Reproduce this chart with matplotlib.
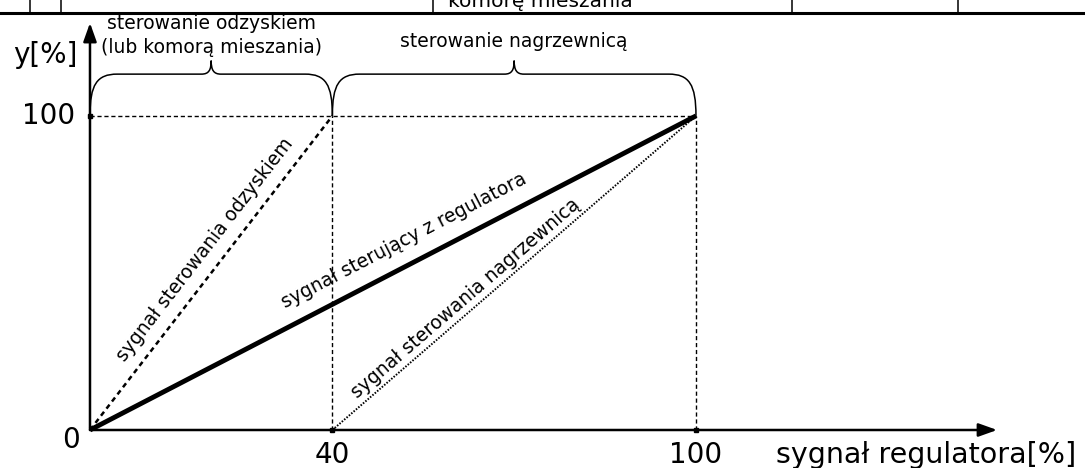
# schemat sekwencji sterowania: odzysk -> nagrzewnica

import matplotlib.pyplot as plt
from matplotlib.path import Path
from matplotlib.patches import PathPatch

plt.rcParams['font.family'] = ['DejaVu Sans']

# dane [%]
x_reg = [0, 100]   # sygnał sterujący z regulatora
y_reg = [0, 100]
x_odz = [0, 40]    # sygnał sterowania odzyskiem
y_odz = [0, 100]
x_nag = [40, 100]  # sygnał sterowania nagrzewnicą
y_nag = [0, 100]
x_ticks = [0, 40, 100]
x_tick_labels = ['0', '40', '100']
y_max = 100
brace_spans = [(0, 40), (40, 100)]
brace_labels = ['sterowanie odzyskiem\n(lub komorą mieszania)', 'sterowanie nagrzewnicą']


def brace(ax, x0, x1, y0, y1, ytip, r=4.5, c=1.6):
    xm = (x0 + x1) / 2
    yk = y1 + 0.3 * (ytip - y1)
    verts = [(x0, y0), (x0, y0 + 0.75 * (y1 - y0)), (x0 + 0.25 * r, y1), (x0 + r, y1),
             (xm - c, y1),
             (xm - 0.25 * c, y1), (xm, yk), (xm, ytip),
             (xm, yk), (xm + 0.25 * c, y1), (xm + c, y1),
             (x1 - r, y1),
             (x1 - 0.25 * r, y1), (x1, y0 + 0.75 * (y1 - y0)), (x1, y0)]
    codes = [Path.MOVETO] + [Path.CURVE4] * 3 + [Path.LINETO] + [Path.CURVE4] * 6 + \
            [Path.LINETO] + [Path.CURVE4] * 3
    ax.add_patch(PathPatch(Path(verts, codes), fill=False, lw=1.1, color='k'))


fig = plt.figure(figsize=(10.85, 4.68), dpi=100)
ax = fig.add_axes([0, 0, 1, 1])
ax.set_xlim(-14.85, 164.2)
ax.set_ylim(-12.1, 136.9)
ax.axis('off')

# fragment tabeli nad rysunkiem
ax.plot([0, 1], [0.972, 0.972], color='k', lw=2.2, transform=ax.transAxes, clip_on=False)
for xf in [30, 61, 433, 792, 958]:
    ax.plot([xf / 1085, xf / 1085], [0.972, 1], color='k', lw=1.1, transform=ax.transAxes)
ax.text(448 / 1085, 1 - 7 / 468, 'komorę mieszania', fontsize=14.5, ha='left',
        va='baseline', transform=ax.transAxes)

# linie pomocnicze
guide = dict(color='k', lw=1, dashes=(3, 2))
ax.plot([0, y_max and 100], [y_max, y_max], **guide)
ax.plot([x_odz[1], x_odz[1]], [0, y_max], **guide)
ax.plot([x_nag[1], x_nag[1]], [0, y_max], **guide)

# sygnały
ax.plot(x_odz, y_odz, color='k', lw=1.8, dashes=(2, 1.6))
ax.plot(x_nag, y_nag, color='k', lw=1.4, dashes=(0.8, 0.8))
ax.plot(x_reg, y_reg, color='k', lw=3.5, solid_capstyle='butt')

# osie ze strzałkami
arr = dict(arrowstyle='-|>,head_length=0.7,head_width=0.25', color='k', lw=1.8,
           shrinkA=0, shrinkB=0, mutation_scale=16)
ax.annotate('', xy=(149.7, 0), xytext=(0, 0), arrowprops=arr)
ax.annotate('', xy=(0, 129.6), xytext=(0, 0), arrowprops=arr)
ax.plot([0, x_ticks[1], x_ticks[2]], [y_max, 0, 0], 's', color='k', ms=3.5)

# opisy osi
ax.text(-7.4, 119.4, 'y[%]', fontsize=20, ha='center', va='center')
ax.text(-2.5, y_max, str(y_max), fontsize=20, ha='right', va='center')
ax.text(-3.1, -3.2, x_tick_labels[0], fontsize=20, ha='center', va='center')
for xt, lab in zip(x_ticks[1:], x_tick_labels[1:]):
    ax.text(xt, -8, lab, fontsize=20, ha='center', va='center')
ax.text(113.2, -8, 'sygnał regulatora[%]', fontsize=20.5, ha='left', va='center')

# klamry
brace_y = [125.6, 123.6]
for (a, b), lab, yl in zip(brace_spans, brace_labels, brace_y):
    brace(ax, a, b, y_max, 113.3, 117.6)
    ax.text((a + b) / 2, yl, lab, fontsize=13.5, ha='center', va='center', linespacing=1.3)

# opisy linii
ax.text(19.0, 57.3, 'sygnał sterowania odzyskiem', fontsize=13.5, rotation=68.2,
        transform_rotates_text=True, rotation_mode='anchor', ha='center', va='center')
ax.text(51.8, 60.2, 'sygnał sterujący z regulatora', fontsize=13.5, rotation=45,
        transform_rotates_text=True, rotation_mode='anchor', ha='center', va='center')
ax.text(62.0, 42.0, 'sygnał sterowania nagrzewnicą', fontsize=13.5, rotation=59.0,
        transform_rotates_text=True, rotation_mode='anchor', ha='center', va='center')

fig.savefig('out.png', dpi=100)
